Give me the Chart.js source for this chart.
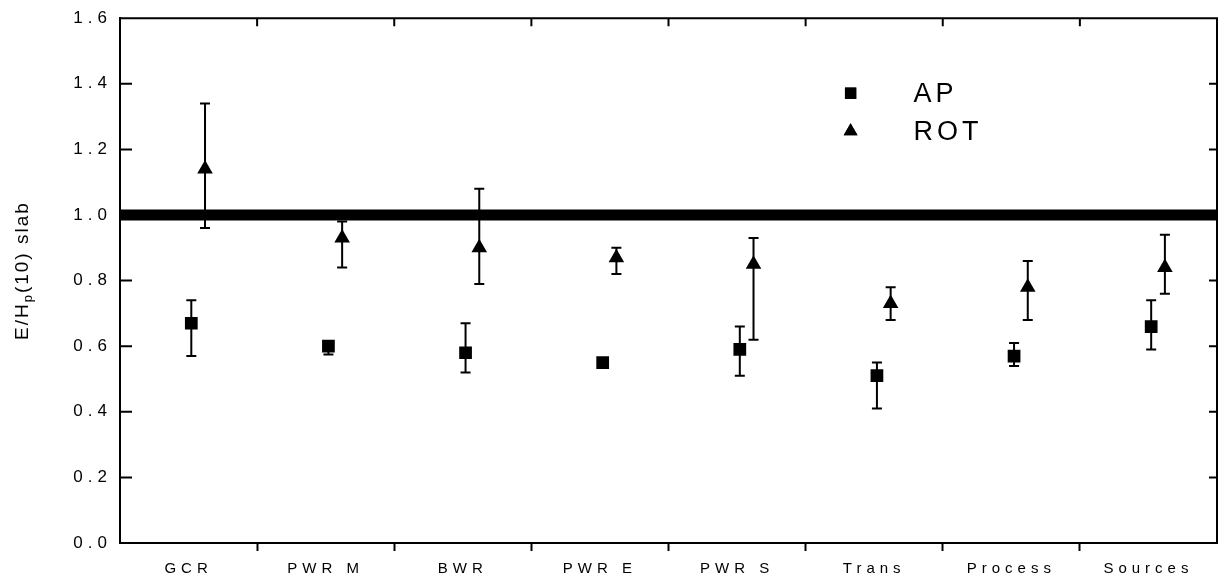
<!DOCTYPE html>
<html>
<head>
<meta charset="utf-8">
<script src="https://cdn.jsdelivr.net/npm/chart.js@4.4.1/dist/chart.umd.min.js"></script>
<style>
  html, body { margin: 0; padding: 0; background: #fff; overflow: hidden; }
  #wrap { width: 1219px; height: 581px; }
  canvas { display: block; }
</style>
</head>
<body>
<div id="wrap"><canvas id="chart"></canvas></div>
<script>
// ── data ──
const categories = ["GCR", "PWR M", "BWR", "PWR E", "PWR S", "Trans", "Process", "Sources"];

const apValues  = [0.67, 0.60,  0.58, 0.55, 0.59, 0.51, 0.57, 0.66];
const apUpper   = [0.74, 0.615, 0.67, 0.55, 0.66, 0.55, 0.61, 0.74];
const apLower   = [0.57, 0.575, 0.52, 0.55, 0.51, 0.41, 0.54, 0.59];

const rotValues = [1.14, 0.93, 0.90, 0.87, 0.85, 0.73, 0.78, 0.84];
const rotUpper  = [1.34, 0.98, 1.08, 0.90, 0.93, 0.78, 0.86, 0.94];
const rotLower  = [0.96, 0.84, 0.79, 0.82, 0.62, 0.68, 0.68, 0.76];

const yTicks   = [0, 0.2, 0.4, 0.6, 0.8, 1.0, 1.2, 1.4, 1.6];
const refLevel = 1.0;

// small horizontal shift of the two series inside a category
const AP_SHIFT  = 0.02;
const ROT_SHIFT = 0.12;

Chart.defaults.font.family = "'Liberation Sans', Arial, sans-serif";
Chart.defaults.color = "#000";

const SPACING = "5px";   // scan is stretched sideways, widen the text a bit

// ── letter spacing for the axis labels ──
const spacingPlugin = {
  id: "spacing",
  beforeLayout(chart) { chart.ctx.letterSpacing = SPACING; },
  beforeDraw(chart)   { chart.ctx.letterSpacing = SPACING; },
};

// ── frame: top + right border and inward ticks ──
const framePlugin = {
  id: "frame",
  beforeDatasetsDraw(chart) {
    const { ctx, chartArea: a, scales: { x, y } } = chart;
    ctx.save();
    ctx.strokeStyle = "#000";
    ctx.lineWidth = 2;
    ctx.beginPath();
    ctx.moveTo(a.left, a.top);
    ctx.lineTo(a.right, a.top);
    ctx.lineTo(a.right, a.bottom);
    yTicks.forEach((v) => {
      const py = y.getPixelForValue(v);
      ctx.moveTo(a.left, py);  ctx.lineTo(a.left + 12, py);
      ctx.moveTo(a.right, py); ctx.lineTo(a.right - 8, py);
    });
    for (let i = 1; i < categories.length; i++) {
      const px = x.getPixelForValue(i + 0.5);
      ctx.moveTo(px, a.top); ctx.lineTo(px, a.top + 8);
    }
    ctx.stroke();
    ctx.restore();
  },
};

// ── error bars ──
const errorBarPlugin = {
  id: "errorBars",
  afterDatasetsDraw(chart) {
    const { ctx, scales: { x, y } } = chart;
    ctx.save();
    ctx.strokeStyle = "#000";
    ctx.lineWidth = 2;
    chart.data.datasets.forEach((ds) => {
      if (!ds.errLo) return;
      ds.data.forEach((p, i) => {
        const lo = ds.errLo[i], hi = ds.errHi[i];
        if (hi - lo < 0.005) return;
        const px = x.getPixelForValue(p.x);
        const yl = y.getPixelForValue(lo);
        const yh = y.getPixelForValue(hi);
        ctx.beginPath();
        ctx.moveTo(px, yl);     ctx.lineTo(px, yh);
        ctx.moveTo(px - 5, yl); ctx.lineTo(px + 5, yl);
        ctx.moveTo(px - 5, yh); ctx.lineTo(px + 5, yh);
        ctx.stroke();
      });
    });
    ctx.restore();
  },
};

// ── y title with subscript p ──
const yTitlePlugin = {
  id: "yTitle",
  afterDraw(chart) {
    const { ctx, chartArea: a } = chart;
    const big = "19px 'Liberation Sans', Arial, sans-serif";
    const small = "13px 'Liberation Sans', Arial, sans-serif";
    const parts = [
      { t: "E/H", f: big, dy: 0 },
      { t: "p", f: small, dy: 4 },
      { t: "(10) slab", f: big, dy: 0 },
    ];
    ctx.save();
    ctx.letterSpacing = "2px";
    ctx.fillStyle = "#000";
    ctx.textBaseline = "alphabetic";
    ctx.textAlign = "left";
    let total = 0;
    parts.forEach((p) => { ctx.font = p.f; p.w = ctx.measureText(p.t).width; total += p.w; });
    ctx.translate(28, (a.top + a.bottom) / 2 - 10);
    ctx.rotate(-Math.PI / 2);
    let cx = -total / 2;
    parts.forEach((p) => {
      ctx.font = p.f;
      ctx.fillText(p.t, cx, p.dy);
      cx += p.w;
    });
    ctx.restore();
  },
};

// ── legend inside the plot ──
const legendPlugin = {
  id: "innerLegend",
  afterDraw(chart) {
    const { ctx, chartArea: a } = chart;
    const items = chart.data.datasets.filter((d) => d.errLo);
    const mx = a.left + (a.right - a.left) * 0.666;
    const tx = mx + 63;
    let yy = a.top + 75;
    ctx.save();
    ctx.letterSpacing = "4px";
    ctx.font = "27px 'Liberation Sans', Arial, sans-serif";
    ctx.textBaseline = "middle";
    ctx.textAlign = "left";
    ctx.fillStyle = "#000";
    items.forEach((ds) => {
      Chart.helpers.drawPoint(ctx, {
        pointStyle: ds.pointStyle,
        radius: 8,
        rotation: 0,
        borderWidth: 0,
      }, mx, yy);
      ctx.fill();
      ctx.fillText(ds.label, tx, yy + 1);
      yy += 38;
    });
    ctx.restore();
  },
};

new Chart(document.getElementById("chart"), {
  data: {
    datasets: [
      {
        type: "line",
        label: "ref",
        data: [{ x: 0.5, y: refLevel }, { x: categories.length + 0.5, y: refLevel }],
        borderColor: "#000",
        borderWidth: 11,
        pointRadius: 0,
      },
      {
        type: "scatter",
        label: "AP",
        data: apValues.map((v, i) => ({ x: i + 1 + AP_SHIFT, y: v })),
        errLo: apLower,
        errHi: apUpper,
        pointStyle: "rect",
        pointRadius: 9,
        backgroundColor: "#000",
        borderColor: "#000",
        borderWidth: 0,
      },
      {
        type: "scatter",
        label: "ROT",
        data: rotValues.map((v, i) => ({ x: i + 1 + ROT_SHIFT, y: v })),
        errLo: rotLower,
        errHi: rotUpper,
        pointStyle: "triangle",
        pointRadius: 9,
        backgroundColor: "#000",
        borderColor: "#000",
        borderWidth: 0,
      },
    ],
  },
  options: {
    responsive: true,
    maintainAspectRatio: false,
    animation: false,
    devicePixelRatio: 1,
    layout: {
      autoPadding: false,
      padding: { top: 18, right: 2, left: 0, bottom: 0 },
    },
    plugins: {
      legend: { display: false },
      tooltip: { enabled: false },
    },
    scales: {
      x: {
        type: "linear",
        min: 0.5,
        max: categories.length + 0.5,
        afterBuildTicks: (s) => {
          const t = [];
          for (let i = 1; i <= categories.length; i++) {
            t.push({ value: i });
            if (i < categories.length) t.push({ value: i + 0.5 });
          }
          s.ticks = t;
        },
        afterFit: (s) => {
          s.height = 38;
          s.paddingLeft = 0;
          s.paddingRight = 0;
        },
        ticks: {
          autoSkip: false,
          maxRotation: 0,
          padding: 9,
          font: { size: 15 },
          callback: (v) => (Number.isInteger(v) ? categories[v - 1] : ""),
        },
        grid: {
          drawOnChartArea: false,
          tickLength: 8,
          tickWidth: 2,
          tickColor: (c) => (c.tick && Number.isInteger(c.tick.value) ? "rgba(0,0,0,0)" : "#000"),
        },
        border: { color: "#000", width: 2 },
      },
      y: {
        min: 0,
        max: 1.6,
        afterBuildTicks: (s) => { s.ticks = yTicks.map((v) => ({ value: v })); },
        afterFit: (s) => { s.width = 120; },
        ticks: {
          padding: 8,
          font: { size: 17 },
          callback: (v) => v.toFixed(1),
        },
        grid: { drawOnChartArea: false, drawTicks: false },
        border: { color: "#000", width: 2 },
      },
    },
  },
  plugins: [spacingPlugin, framePlugin, errorBarPlugin, yTitlePlugin, legendPlugin],
});
</script>
</body>
</html>
